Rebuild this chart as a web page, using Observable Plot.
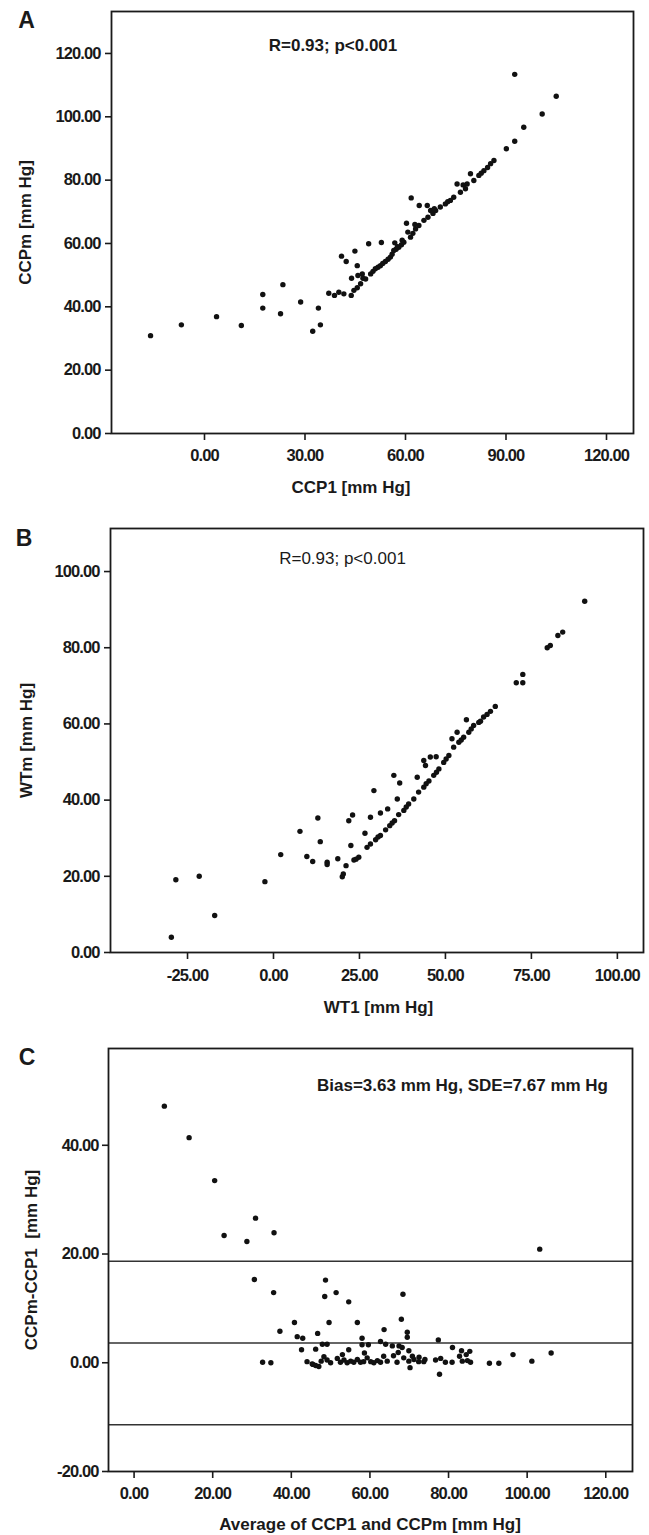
<!DOCTYPE html>
<html>
<head>
<meta charset="utf-8">
<script src="https://cdn.jsdelivr.net/npm/d3@7"></script>
<script src="https://cdn.jsdelivr.net/npm/@observablehq/plot@0.6"></script>
<style>
  html, body { margin: 0; padding: 0; background: #fff; }
  #root { position: relative; width: 649px; height: 1535px; background: #fff; overflow: hidden; }
  .panel { position: absolute; left: 0; }
  g[aria-label="x-axis tick label"] text, g[aria-label="y-axis tick label"] text { letter-spacing: -0.9px; }
</style>
</head>
<body>
<div id="root"></div>
<script>
// ---------- Panel A: CCP1 vs CCPm ----------
const ccp1A = [-16.1,-6.9,3.6,11.0,17.4,17.4,23.4,22.7,28.7,32.3,34.6,34.0,37.1,38.8,40.1,41.6,40.9,42.3,44.9,45.6,49.0,52.8,43.9,45.8,47.1,47.3,60.3,61.7,64.1,66.5,75.4,79.4,90.1,92.6,92.6,95.3,100.8,105.0,
  43.8,44.6,45.6,46.6,48.1,49.6,50.3,51.0,51.8,52.5,53.2,54.0,54.8,55.5,56.0,56.5,57.2,58.0,58.8,59.5,60.7,61.5,62.2,63.0,64.0,65.5,66.7,67.5,68.2,69.0,70.4,71.9,73.4,74.4,76.4,77.9,78.4,80.4,81.9,83.4,84.5,85.4,86.4,
  56.8,57.6,59.0,62.8,68.6,72.6,77.2,82.6];
const ccpmA = [30.9,34.3,36.9,34.1,43.9,39.6,47.0,37.8,41.5,32.3,34.3,39.6,44.3,43.6,44.6,44.1,56.0,54.3,57.6,53.0,59.9,60.3,49.0,49.9,50.4,49.0,66.4,74.4,72.0,72.0,78.8,82.0,89.9,92.3,113.4,96.7,100.9,106.5,
  43.6,45.2,46.0,47.3,48.8,50.4,51.2,52.0,52.5,53.0,53.7,54.3,55.0,55.7,56.6,57.8,58.2,58.8,59.6,60.4,63.6,62.0,63.2,64.6,65.7,67.3,68.3,70.4,69.5,70.4,71.5,72.5,73.6,74.6,76.2,77.3,78.8,79.9,81.5,83.0,84.0,85.2,86.2,
  60.2,59.0,61.0,66.0,71.0,73.2,78.5,82.2];

// ---------- Panel B: WT1 vs WTm ----------
const wt1B = [-29.7,-28.4,-21.6,-17.1,-2.5,2.1,7.7,9.7,11.4,12.9,13.6,15.6,15.6,18.7,20.3,20.0,21.1,21.9,23.0,22.5,26.6,29.2,28.2,31.1,33.2,35.0,36.7,36.0,41.8,44.2,43.7,45.6,47.3,51.9,53.4,56.1,60.2,70.6,72.5,72.5,79.6,80.5,82.7,84.1,90.5,
  23.4,24.8,27.2,28.2,29.7,31.1,32.6,33.8,35.2,36.4,37.9,39.3,40.8,42.2,43.7,45.2,46.6,48.1,49.5,51.0,52.4,53.9,55.3,56.8,58.2,59.7,61.1,63.1,64.5,
  24.0,30.4,34.5,38.6,44.4,47.4,50.2,54.6,57.5,62.1];
const wtmB = [4.0,19.1,20.0,9.7,18.6,25.7,31.8,25.2,23.9,35.3,29.1,23.7,23.1,24.6,20.6,19.9,22.8,34.6,36.1,28.1,31.3,42.5,35.5,36.6,37.7,46.5,44.5,40.3,46.0,49.1,50.4,51.3,51.4,56.1,57.8,61.1,60.7,70.8,70.8,73.0,80.0,80.6,83.2,84.1,92.2,
  24.3,25.0,27.6,28.5,29.6,30.7,32.2,33.3,34.6,36.2,37.3,39.0,40.3,42.1,43.4,45.0,46.5,48.2,49.9,51.7,53.9,55.2,56.5,57.8,59.6,60.4,61.8,63.3,64.6,
  24.5,30.3,34.0,38.2,44.3,47.3,50.8,55.8,58.7,62.5];

// ---------- Panel C: Bland-Altman ----------
const avgC = [7.7,14.0,20.5,22.9,28.7,30.9,35.6,103.2,
  30.6,35.5,48.7,48.5,51.4,54.6,68.4,
  40.8,49.6,56.8,68.0,37.1,46.7,63.6,
  41.5,42.9,69.5,69.5,58.0,77.4,
  42.6,46.2,47.9,49.1,54.6,58.0,59.6,62.7,64.0,65.7,67.4,68.2,69.9,81.0,83.3,85.4,
  96.4,106.1,101.2,90.4,92.8,32.7,34.8,77.7,70.2,47.0,45.5,
  44.0,45.3,46.2,47.6,48.3,49.1,50.0,51.7,52.5,53.4,54.2,55.1,55.9,56.8,57.6,58.4,59.3,60.2,61.0,61.9,62.7,63.5,64.4,66.9,68.6,69.9,71.2,72.4,73.7,76.7,78.0,79.2,80.9,83.5,84.8,85.6,
  53.0,58.6,66.0,67.2,70.8,72.5,74.0,82.8,84.5];
const diffC = [47.2,41.4,33.5,23.4,22.3,26.6,23.9,20.9,
  15.3,12.9,15.2,12.2,12.9,11.2,12.6,
  7.4,7.4,7.4,8.0,5.8,5.4,6.1,
  4.8,4.5,5.6,4.7,4.5,4.2,
  2.4,2.5,3.4,3.4,2.4,3.3,3.3,3.9,3.4,3.1,3.1,2.8,2.2,2.8,2.2,2.1,
  1.5,1.8,0.3,-0.1,-0.1,0.1,0.0,-2.1,-0.9,-0.7,-0.3,
  0.2,-0.2,-0.5,0.3,1.1,0.5,0.0,0.8,0.1,0.5,0.0,0.3,0.1,0.6,0.1,0.2,0.9,0.2,0.0,0.4,0.1,1.2,0.3,0.1,0.9,0.3,0.6,0.2,0.2,0.5,0.8,0.1,0.1,0.3,0.4,0.1,
  1.5,1.8,1.3,1.9,1.2,1.0,0.6,1.2,1.5];
const limitsC = [18.66, 3.63, -11.40];

// tick values
const xTicksA = [0, 30, 60, 90, 120];
const yTicksA = [0, 20, 40, 60, 80, 100, 120];
const xTicksB = [-25, 0, 25, 50, 75, 100];
const yTicksB = [0, 20, 40, 60, 80, 100];
const xTicksC = [0, 20, 40, 60, 80, 100, 120];
const yTicksC = [-20, 0, 20, 40];

const sans = "'Liberation Sans', Arial, Helvetica, sans-serif";
const fmt = d => d.toFixed(2);
const ink = "#1a1a1a";

function panel(o) {
  const data = o.xs.map((x, i) => ({x, y: o.ys[i]}));
  const marks = [];
  if (o.rules) marks.push(Plot.ruleY(o.rules, {stroke: "#333", strokeWidth: 1.6}));
  marks.push(
    Plot.axisX({ticks: o.xTicks, tickFormat: fmt, tickSize: 7, tickPadding: o.xPad, label: null,
      fontFamily: sans, fontSize: 16.5, fontWeight: "bold", fill: ink, stroke: ink, strokeWidth: 1.6}),
    Plot.axisY({ticks: o.yTicks, tickFormat: fmt, tickSize: 6, tickPadding: o.yPad, label: null,
      fontFamily: sans, fontSize: 16.5, fontWeight: "bold", fill: ink, stroke: ink, strokeWidth: 1.6}),
    Plot.dot(data, {x: "x", y: "y", r: 2.7, fill: "#111", stroke: "none"}),
    Plot.frame({stroke: ink, strokeWidth: 1.8}),
    Plot.text([o.letter], {frameAnchor: "top-left", dx: o.letterDx, dy: o.letterDy, textAnchor: "middle", lineAnchor: "middle",
      fontFamily: sans, fontSize: 23, fontWeight: "bold", fill: ink}),
    Plot.text([o.xTitle], {frameAnchor: "bottom", dx: o.xTitleDx, dy: o.xTitleDy, lineAnchor: "middle",
      fontFamily: sans, fontSize: 17, fontWeight: "bold", fill: ink}),
    Plot.text([o.yTitle], {frameAnchor: "left", dx: o.yTitleDx, rotate: -90, lineAnchor: "middle", textAnchor: "middle",
      fontFamily: sans, fontSize: 17, fontWeight: "bold", fill: ink}),
    Plot.text([o.note], {frameAnchor: "top", dx: o.noteDx, dy: o.noteDy, lineAnchor: "middle",
      fontFamily: sans, fontSize: 17, fontWeight: o.noteWeight, fill: ink})
  );
  const svg = Plot.plot({
    width: 649,
    height: o.height,
    marginLeft: o.ml, marginRight: o.mr, marginTop: o.mt, marginBottom: o.mb,
    x: {domain: o.xDomain, axis: null},
    y: {domain: o.yDomain, axis: null},
    style: {background: "white", color: ink, fontFamily: sans, overflow: "visible"},
    marks
  });
  const div = document.createElement("div");
  div.className = "panel";
  div.style.top = o.top + "px";
  div.appendChild(svg);
  document.getElementById("root").appendChild(div);
}

panel({
  top: 0, height: 500, ml: 111, mr: 16, mt: 11, mb: 67,
  xs: ccp1A, ys: ccpmA, xDomain: [-27.76, 128.06], yDomain: [0, 133.25],
  xTicks: xTicksA, yTicks: yTicksA, xPad: 9, yPad: 5,
  letter: "A", letterDx: -85, letterDy: 9,
  xTitle: "CCP1 [mm Hg]", xTitleDx: -21.5, xTitleDy: 54,
  yTitle: "CCPm [mm Hg]", yTitleDx: -86,
  note: "R=0.93; p<0.001", noteDx: -39.5, noteDy: 34, noteWeight: "bold"
});

panel({
  top: 510, height: 510, ml: 110, mr: 6, mt: 18, mb: 68,
  xs: wt1B, ys: wtmB, xDomain: [-47.4, 107.6], yDomain: [0, 111.3],
  xTicks: xTicksB, yTicks: yTicksB, xPad: 10, yPad: 5,
  letter: "B", letterDx: -86.5, letterDy: 10.5,
  xTitle: "WT1 [mm Hg]", xTitleDx: 1.5, xTitleDy: 55,
  yTitle: "WTm [mm Hg]", yTitleDx: -84,
  note: "R=0.93; p<0.001", noteDx: -34.5, noteDy: 30, noteWeight: "normal"
});

panel({
  top: 1020, height: 515, ml: 108, mr: 17, mt: 28, mb: 64,
  xs: avgC, ys: diffC, xDomain: [-6.51, 126.8], yDomain: [-20, 57.8],
  xTicks: xTicksC, yTicks: yTicksC, xPad: 9, yPad: 4, rules: limitsC,
  letter: "C", letterDx: -81.5, letterDy: 9.5,
  xTitle: "Average of CCP1 and CCPm [mm Hg]", xTitleDx: -0.5, xTitleDy: 53,
  yTitle: "CCPm-CCP1\u00a0 [mm Hg]", yTitleDx: -77,
  note: "Bias=3.63 mm Hg, SDE=7.67 mm Hg", noteDx: 92, noteDy: 37, noteWeight: "bold"
});
</script>
</body>
</html>
